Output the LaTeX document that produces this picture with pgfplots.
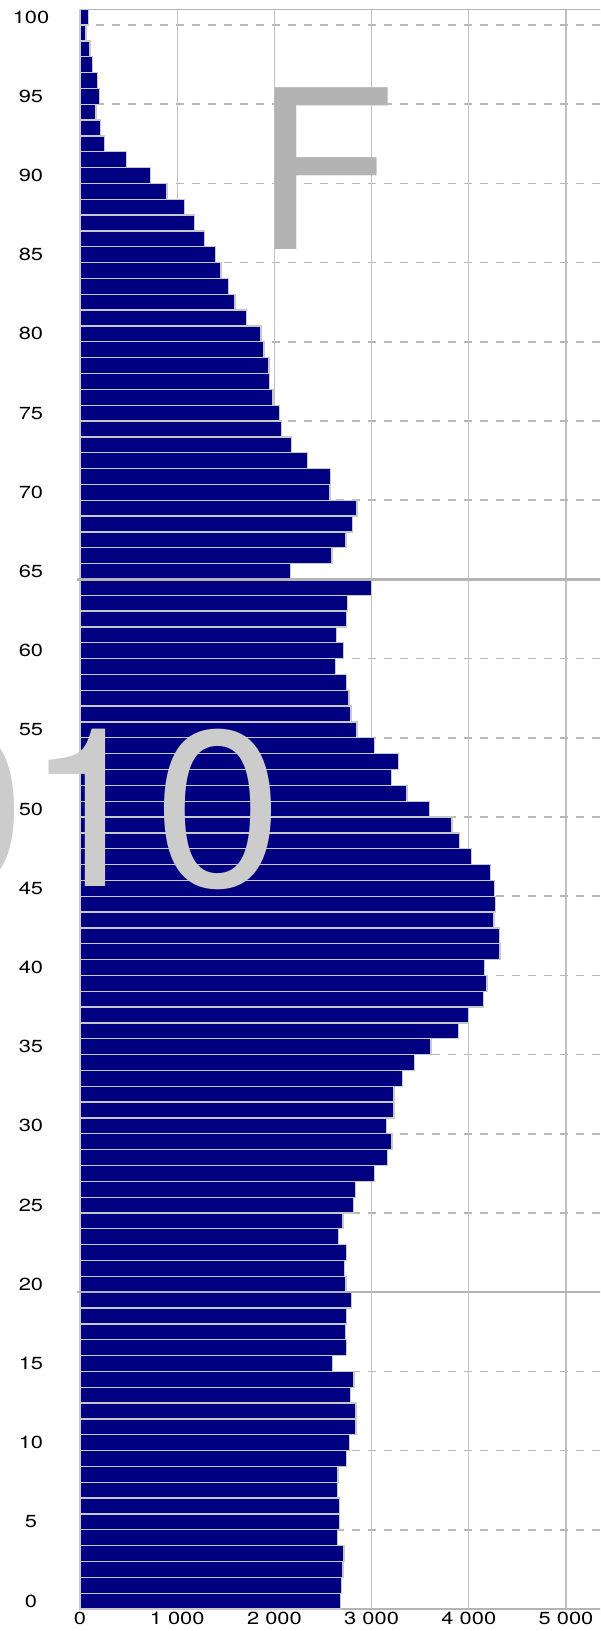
\documentclass[border=0pt]{standalone}
\usepackage{pgfplots}
\pgfplotsset{compat=1.18}
\usepackage{pgfplotstable}
\usepackage{fontspec}
\setmainfont{TeX Gyre Heros}
\newfontfamily\tickfont{TeX Gyre Heros}[FakeStretch=1.25]
\newfontfamily\bigfont{TeX Gyre Heros}[FakeStretch=1.04]
\definecolor{barblue}{RGB}{0,0,128}
\definecolor{barline}{RGB}{200,200,200}
\definecolor{gridc}{RGB}{192,192,192}
\definecolor{dashc}{RGB}{185,185,185}
\definecolor{axisc}{RGB}{180,180,180}
\definecolor{fgray}{RGB}{179,179,179}
\definecolor{ygray}{RGB}{204,204,204}

\pgfplotstableread{
age value
0 2682
1 2693
2 2705
3 2717
4 2650
5 2670
6 2670
7 2647
8 2654
9 2744
10 2776
11 2839
12 2839
13 2784
14 2819
15 2598
16 2744
17 2729
18 2744
19 2791
20 2736
21 2721
22 2744
23 2662
24 2705
25 2811
26 2831
27 3028
28 3166
29 3210
30 3154
31 3229
32 3229
33 3316
34 3442
35 3611
36 3891
37 3997
38 4148
39 4187
40 4163
41 4321
42 4317
43 4258
44 4277
45 4266
46 4226
47 4025
48 3903
49 3828
50 3596
51 3363
52 3202
53 3276
54 3028
55 2851
56 2788
57 2768
58 2744
59 2630
60 2709
61 2638
62 2744
63 2752
64 3000
65 2169
66 2594
67 2736
68 2800
69 2851
70 2571
71 2575
72 2343
73 2173
74 2075
75 2051
76 1984
77 1952
78 1944
79 1893
80 1862
81 1712
82 1594
83 1527
84 1450
85 1397
86 1283
87 1176
88 1074
89 896
90 723
91 479
92 254
93 211
94 164
95 203
96 183
97 128
98 104
99 61
100 85
}\datatable

\begin{document}
\begin{tikzpicture}[x=1pt,y=1pt]
\useasboundingbox (0,0) rectangle (600,1631);
\clip (0,0) rectangle (600,1631);
\begin{axis}[
  at={(80pt,22pt)}, anchor=south west,
  scale only axis, width=524.9pt, height=1599.8pt,
  xmin=0, xmax=5400, ymin=0, ymax=101,
  clip=false,
  axis line style={axisc, line width=1.3pt},
  major tick length=0pt,
  /pgf/number format/assume math mode=true,
  xtick={0,1000,2000,3000,4000,5000},
  xticklabels={0,1 000,2 000,3 000,4 000,5 000},
  xmajorgrids,
  major grid style={gridc, line width=1.2pt},
  ytick={0.5,5.5,...,100.5},
  yticklabels={0,5,10,15,20,25,30,35,40,45,50,55,60,65,70,75,80,85,90,95,100},
  extra y ticks={5,10,...,100},
  extra y tick labels={},
  extra y tick style={grid=major, major grid style={dashc, line width=1.5pt, dash pattern=on 8pt off 8pt}},
  xticklabel style={font=\tickfont\fontsize{17.5}{17.5}\selectfont, anchor=north, inner sep=0pt, yshift=-3pt},
  yticklabel style={font=\tickfont\fontsize{17.5}{17.5}\selectfont, anchor=center, inner sep=0pt, xshift=-49pt},
]
\addplot[xbar, bar width=1, bar shift=0pt, fill=barblue, draw=barline, line width=1.3pt]
  table[x=value, y expr=\thisrow{age}+0.5] {\datatable};
\draw[axisc, line width=2.2pt] (axis cs:-30,20) -- (axis cs:5400,20);
\draw[axisc, line width=2.2pt] (axis cs:-30,65) -- (axis cs:5400,65);
\end{axis}
\node[anchor=base west, inner sep=0pt, text=fgray, font=\bigfont\fontsize{222}{222}\selectfont] at (254.4,1381) {F};
\node[anchor=base east, inner sep=0pt, text=ygray, font=\bigfont\fontsize{222}{222}\selectfont] at (282.8,744.3) {2010};
\end{tikzpicture}
\end{document}
